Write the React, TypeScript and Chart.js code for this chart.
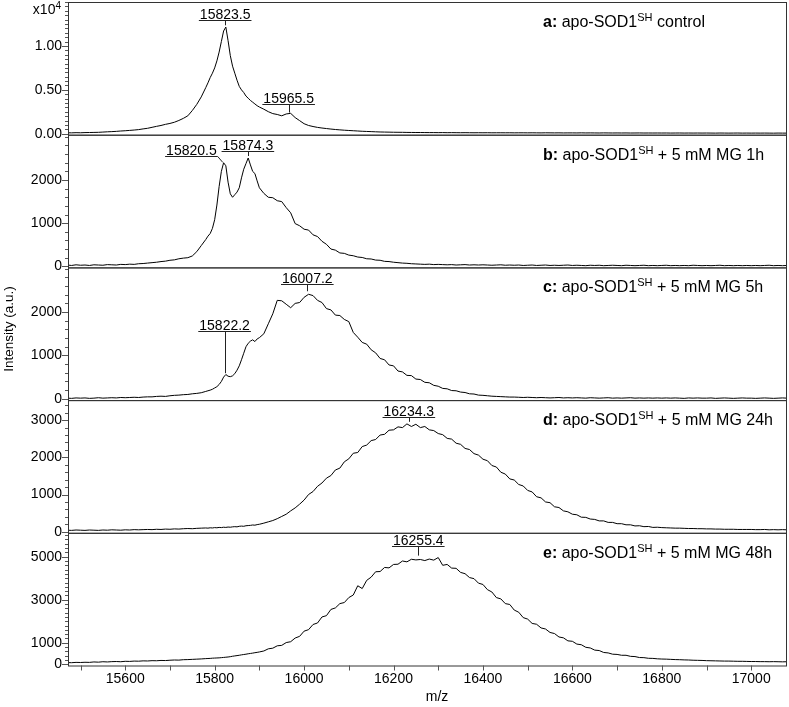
import React, { useEffect, useRef } from 'react';
import { Chart, registerables } from 'chart.js';

Chart.register(...registerables);

// m/z channels (shared by all five spectra)
const MZ = [
  15470, 15480, 15490,
  15500, 15510, 15520, 15530, 15540, 15550, 15560, 15570, 15580, 15590,
  15600, 15610, 15620, 15630, 15640, 15650, 15660, 15670, 15680, 15690,
  15700, 15710, 15720, 15730, 15740, 15750, 15760, 15770, 15780,
  15785, 15790, 15795, 15800, 15805, 15810, 15815, 15820, 15825, 15830, 15835, 15840,
  15845, 15850, 15855, 15860, 15865, 15870, 15875, 15880, 15885, 15890, 15895, 15900,
  15910, 15920, 15930, 15940, 15950, 15960, 15970, 15980, 15990,
  16000, 16010, 16020, 16030, 16040, 16050, 16060, 16070, 16080, 16090,
  16100, 16110, 16120, 16130, 16140, 16150, 16160, 16170, 16180, 16190,
  16200, 16210, 16220, 16230, 16240, 16250, 16260, 16270, 16280, 16290,
  16300, 16310, 16320, 16330, 16340, 16350, 16360, 16370, 16380, 16390,
  16400, 16410, 16420, 16430, 16440, 16450, 16460, 16470, 16480, 16490,
  16500, 16510, 16520, 16530, 16540, 16550, 16560, 16570, 16580, 16590,
  16600, 16610, 16620, 16630, 16640, 16650, 16660, 16670, 16680, 16690,
  16700, 16710, 16720, 16730, 16740, 16750, 16760, 16770, 16780, 16790,
  16800, 16810, 16820, 16830, 16840, 16850, 16860, 16870, 16880, 16890,
  16900, 16910, 16920, 16930, 16940, 16950, 16960, 16970, 16980, 16990,
  17000, 17010, 17020, 17030, 17040, 17050, 17060, 17070, 17080,
];

// a: apo-SOD1 control
const SERIES_A = [
  120, 110, 130,
  120, 140, 150, 160, 170, 200, 230, 250, 280, 320,
  350, 390, 430, 480, 560, 630, 740, 850, 950, 1080,
  1180, 1320, 1520, 1760, 2050, 2650, 3350, 4200, 5250,
  5800, 6400, 6900, 7500, 8300, 9300, 10500, 11700, 12150, 10600, 8900, 7700,
  6900, 6100, 5400, 5000, 4700, 4300, 4050, 3800, 3600, 3400, 3200, 3050,
  2800, 2520, 2300, 2200, 2050, 2260, 2330, 1850, 1500,
  1150, 950, 830, 730, 660, 600, 540, 490, 450, 410,
  380, 350, 320, 290, 270, 250, 230, 210, 200, 190,
  180, 175, 170, 160, 155, 150, 150, 145, 140, 140,
  135, 140, 130, 135, 130, 125, 130, 125, 120, 125,
  120, 125, 115, 120, 120, 115, 120, 110, 115, 115,
  110, 115, 110, 105, 115, 110, 105, 110, 100, 105,
  105, 100, 110, 100, 105, 100, 95, 105, 100, 95,
  100, 95, 100, 90, 95, 100, 90, 95, 90, 95,
  90, 95, 85, 90, 95, 85, 90, 85, 90, 85,
  90, 85, 80, 90, 85, 80, 85, 90, 80, 85,
  80, 85, 80, 85, 80, 75, 85, 80, 80,
];

// b: + 5 mM MG 1h
const SERIES_B = [
  30, 20, 35,
  25, 30, 20, 35, 30, 25, 40, 35, 30, 45,
  40, 50, 45, 60, 65, 75, 85, 95, 110, 120,
  140, 150, 175, 190, 200, 240, 340, 480, 620,
  700, 760, 880, 1080, 1420, 1850, 2200, 2400, 2330, 1950, 1680, 1600,
  1660, 1720, 1820, 2050, 2250, 2380, 2510, 2350, 2200, 2150, 1980, 1820,
  1690, 1600, 1590, 1520, 1500, 1360, 1240, 990, 940,
  860, 840, 730, 690, 580, 510, 400, 375, 310, 300,
  260, 245, 215, 205, 175, 170, 145, 140, 115, 110,
  95, 85, 75, 70, 60, 55, 50, 45, 50, 40,
  45, 40, 35, 40, 30, 35, 40, 30, 35, 30,
  35, 30, 25, 30, 35, 25, 30, 25, 30, 20,
  25, 30, 20, 25, 30, 20, 25, 20, 25, 30,
  20, 25, 20, 15, 25, 20, 25, 15, 20, 25,
  20, 15, 25, 20, 15, 20, 25, 15, 20, 15,
  20, 25, 15, 20, 15, 20, 15, 25, 20, 15,
  20, 15, 20, 25, 15, 20, 15, 20, 15, 20,
  15, 20, 15, 20, 25, 15, 20, 15, 20,
];

// c: + 5 mM MG 5h
const SERIES_C = [
  15, 10, 20,
  15, 20, 10, 15, 25, 15, 20, 25, 20, 30,
  25, 30, 35, 30, 40, 45, 45, 55, 60, 55,
  70, 80, 85, 95, 100, 115, 125, 140, 170,
  185, 200, 220, 250, 280, 330, 400, 500, 560, 520, 510, 530,
  580, 660, 760, 900, 1050, 1200, 1280, 1330, 1360, 1320, 1380, 1410,
  1500, 1730, 1960, 2270, 2260, 2180, 2100, 2200, 2220,
  2340, 2410, 2380, 2270, 2220, 2080, 2050, 1930, 1920, 1830,
  1780, 1530, 1420, 1300, 1260, 1130, 1060, 930, 900, 780,
  760, 640, 620, 540, 535, 455, 445, 380, 370, 310,
  290, 240, 230, 190, 185, 155, 145, 115, 110, 85,
  80, 70, 60, 55, 50, 45, 40, 40, 35, 30,
  35, 30, 25, 30, 25, 20, 25, 30, 20, 25,
  20, 25, 20, 15, 25, 20, 15, 20, 25, 15,
  20, 15, 20, 25, 15, 20, 15, 20, 15, 20,
  15, 20, 15, 20, 15, 10, 20, 15, 20, 15,
  15, 20, 10, 15, 20, 15, 10, 15, 20, 15,
  15, 10, 15, 20, 15, 10, 15, 20, 15,
];

// d: + 5 mM MG 24h
const SERIES_D = [
  40, 35, 45,
  40, 35, 45, 40, 35, 45, 40, 50, 45, 40,
  50, 45, 55, 50, 55, 60, 55, 65, 60, 70,
  65, 75, 70, 80, 85, 80, 90, 95, 100,
  95, 105, 100, 110, 105, 115, 110, 120, 115, 125, 120, 130,
  135, 130, 145, 150, 145, 160, 165, 170, 180, 175, 190, 200,
  230, 265, 300, 350, 410, 470, 560, 640, 740,
  850, 1000, 1080, 1220, 1310, 1440, 1510, 1660, 1710, 1880,
  1960, 2110, 2130, 2290, 2330, 2450, 2480, 2600, 2620, 2730,
  2740, 2820, 2800, 2900, 2830, 2890, 2800, 2830, 2740, 2720,
  2640, 2610, 2510, 2490, 2380, 2350, 2240, 2210, 2100, 2060,
  1950, 1910, 1780, 1740, 1600, 1550, 1420, 1390, 1270, 1230,
  1110, 1070, 940, 910, 800, 780, 670, 650, 560, 535,
  470, 455, 390, 385, 340, 330, 290, 290, 250, 250,
  215, 215, 185, 185, 155, 160, 135, 140, 115, 120,
  110, 105, 100, 95, 95, 90, 85, 85, 80, 80,
  75, 75, 70, 70, 65, 65, 65, 60, 60, 60,
  60, 55, 55, 60, 50, 55, 50, 55, 50,
];

// e: + 5 mM MG 48h
const SERIES_E = [
  80, 75, 90,
  85, 95, 90, 110, 100, 120, 110, 125, 130, 120,
  140, 135, 150, 145, 160, 155, 170, 165, 180, 175,
  190, 200, 195, 215, 220, 230, 240, 250, 265,
  270, 275, 285, 290, 295, 300, 310, 320, 330, 340, 355, 375,
  390, 405, 420, 440, 455, 470, 490, 505, 520, 540, 555, 575,
  620, 720, 750, 860, 880, 1010, 1050, 1220, 1300,
  1540, 1610, 1850, 1920, 2200, 2260, 2550, 2620, 2820, 2870,
  3100, 3220, 3650, 3520, 3900, 4050, 4300, 4310, 4500, 4480,
  4640, 4650, 4800, 4760, 4880, 4850, 4870, 4820, 4890, 4840,
  4960, 4600, 4640, 4470, 4460, 4270, 4210, 4030, 3980, 3770,
  3710, 3470, 3360, 3100, 3040, 2820, 2780, 2520, 2420, 2170,
  2100, 1900, 1860, 1690, 1640, 1480, 1430, 1270, 1230, 1090,
  1070, 940, 910, 790, 760, 660, 640, 550, 530, 470,
  460, 420, 420, 370, 360, 315, 310, 280, 275, 255,
  245, 240, 230, 220, 215, 205, 200, 190, 185, 180,
  170, 165, 160, 155, 150, 150, 145, 140, 140, 135,
  130, 130, 125, 125, 120, 125, 120, 115, 120,
];

const X_TICKS = [15600, 15800, 16000, 16200, 16400, 16600, 16800, 17000];
const X_MINOR_TICKS = [15500, 15700, 15900, 16100, 16300, 16500, 16700, 16900];
const Y_TICKS_A = [0, 5000, 10000];
const Y_TICKS_B = [0, 1000, 2000];
const Y_TICKS_C = [0, 1000, 2000];
const Y_TICKS_D = [0, 1000, 2000, 3000];
const Y_TICKS_E = [0, 1000, 3000, 5000];

const PANEL_LETTERS = ['a:', 'b:', 'c:', 'd:', 'e:'];
const PANEL_TEXTS = [' control', ' + 5 mM MG 1h', ' + 5 mM MG 5h', ' + 5 mM MG 24h', ' + 5 mM MG 48h'];

// peak annotations: label, label centre m/z, underline level, tip m/z, tip level
const PEAKS_A = [
  { label: '15823.5', textMz: 15823.5, line: 12960, tipMz: 15823.5, tip: 12350 },
  { label: '15965.5', textMz: 15965.5, line: 3450, tipMz: 15965.5, tip: 2420 },
];
const PEAKS_B = [
  { label: '15820.5', textMz: 15748, line: 2563, tipMz: 15818, tip: 2410 },
  { label: '15874.3', textMz: 15874.3, line: 2680, tipMz: 15874.3, tip: 2556 },
];
const PEAKS_C = [
  { label: '16007.2', textMz: 16007.2, line: 2647, tipMz: 16007.2, tip: 2480 },
  { label: '15822.2', textMz: 15822.2, line: 1571, tipMz: 15822.2, tip: 591 },
];
const PEAKS_D = [
  { label: '16234.3', textMz: 16234.3, line: 3090, tipMz: 16234.3, tip: 2956 },
];
const PEAKS_E = [
  { label: '16255.4', textMz: 16255.4, line: 5479, tipMz: 16255.4, tip: 5050 },
];

const FONT = '"Liberation Sans", Arial, Helvetica, sans-serif';

const PANELS = [
  { id: 'ya', data: SERIES_A, min: -100, max: 15000, ticks: Y_TICKS_A, minor: 500, sci: true, peaks: PEAKS_A },
  { id: 'yb', data: SERIES_B, min: -25, max: 3050, ticks: Y_TICKS_B, minor: 200, sci: false, peaks: PEAKS_B },
  { id: 'yc', data: SERIES_C, min: -30, max: 3030, ticks: Y_TICKS_C, minor: 200, sci: false, peaks: PEAKS_C },
  { id: 'yd', data: SERIES_D, min: -30, max: 3540, ticks: Y_TICKS_D, minor: 200, sci: false, peaks: PEAKS_D },
  { id: 'ye', data: SERIES_E, min: -55, max: 6110, ticks: Y_TICKS_E, minor: 200, sci: false, peaks: PEAKS_E },
];

const decorPlugin = {
  id: 'decor',
  afterDraw(chart: any) {
    const ctx = chart.ctx;
    const area = chart.chartArea;
    const xs = chart.scales.x;
    ctx.save();
    PANELS.forEach((p, i) => {
      const s = chart.scales[p.id];
      ctx.strokeStyle = '#333';
      ctx.lineWidth = 1;
      ctx.strokeRect(area.left + 0.5, s.top + 0.5, area.right - area.left - 1, s.bottom - s.top);
      ctx.strokeStyle = '#555';
      ctx.beginPath();
      const start = Math.ceil(p.min / p.minor) * p.minor;
      for (let v = start; v <= p.max; v += p.minor) {
        const y = Math.round(s.getPixelForValue(v)) + 0.5;
        const len = p.ticks.includes(v) ? 6 : 3;
        ctx.moveTo(area.left - len, y);
        ctx.lineTo(area.left, y);
      }
      ctx.stroke();

      // panel label
      ctx.fillStyle = '#000';
      ctx.textBaseline = 'alphabetic';
      ctx.textAlign = 'left';
      let x = 543;
      const y = s.top + 25;
      ctx.font = 'bold 16px ' + FONT;
      ctx.fillText(PANEL_LETTERS[i], x, y);
      x += ctx.measureText(PANEL_LETTERS[i]).width;
      ctx.font = '16px ' + FONT;
      ctx.fillText(' apo-SOD1', x, y);
      x += ctx.measureText(' apo-SOD1').width;
      ctx.font = '11px ' + FONT;
      ctx.fillText('SH', x, y - 6);
      x += ctx.measureText('SH').width;
      ctx.font = '16px ' + FONT;
      ctx.fillText(PANEL_TEXTS[i], x, y);

      // peak annotations
      ctx.font = '14px ' + FONT;
      ctx.textAlign = 'center';
      ctx.strokeStyle = '#222';
      p.peaks.forEach((pk) => {
        const xt = xs.getPixelForValue(pk.textMz);
        const yl = Math.round(s.getPixelForValue(pk.line)) + 0.5;
        const w = ctx.measureText(pk.label).width + 2;
        ctx.fillText(pk.label, xt, yl - 2);
        ctx.beginPath();
        ctx.moveTo(xt - w / 2, yl);
        ctx.lineTo(xt + w / 2, yl);
        const tx = xs.getPixelForValue(pk.tipMz);
        const ty = s.getPixelForValue(pk.tip);
        const sx = tx > xt + w / 2 ? xt + w / 2 : Math.round(tx) + 0.5;
        ctx.moveTo(sx, yl);
        ctx.lineTo(tx > xt + w / 2 ? tx : sx, ty);
        ctx.stroke();
      });
    });

    // x ticks
    ctx.strokeStyle = '#555';
    ctx.beginPath();
    [...X_TICKS, ...X_MINOR_TICKS].forEach((v) => {
      const x = Math.round(xs.getPixelForValue(v)) + 0.5;
      ctx.moveTo(x, area.bottom);
      ctx.lineTo(x, area.bottom + 5);
    });
    ctx.stroke();

    // x10^4
    ctx.fillStyle = '#000';
    ctx.textAlign = 'right';
    ctx.font = '10px ' + FONT;
    ctx.fillText('4', 61, 9);
    const w4 = ctx.measureText('4').width;
    ctx.font = '14px ' + FONT;
    ctx.fillText('x10', 61 - w4, 14);

    // axis titles
    ctx.textAlign = 'center';
    ctx.textBaseline = 'middle';
    ctx.font = '14px ' + FONT;
    ctx.fillText('m/z', 437, 697);
    ctx.save();
    ctx.translate(9, 329);
    ctx.rotate(-Math.PI / 2);
    ctx.font = '13.5px ' + FONT;
    ctx.fillText('Intensity (a.u.)', 0, 0);
    ctx.restore();
    ctx.restore();
  },
};

export default function App() {
  const ref = useRef<HTMLCanvasElement | null>(null);
  useEffect(() => {
    if (!ref.current) return;
    const scales: any = {
      x: {
        type: 'linear',
        position: 'bottom',
        min: 15472,
        max: 17080,
        grid: { display: false, drawTicks: false },
        border: { display: false },
        ticks: {
          padding: 5,
          color: '#000',
          font: { family: FONT, size: 14 },
          maxRotation: 0,
          autoSkip: false,
          callback: (v: number) => String(v),
        },
        afterBuildTicks: (s: any) => { s.ticks = X_TICKS.map((v) => ({ value: v })); },
        afterFit: (s: any) => { s.height = 41.5; s.paddingLeft = 0; s.paddingRight = 0; },
      },
    };
    // bottom-to-top definition order => last one is placed at the top of the stack
    [...PANELS].reverse().forEach((p) => {
      scales[p.id] = {
        type: 'linear',
        position: 'left',
        stack: 'spectra',
        stackWeight: 1,
        min: p.min,
        max: p.max,
        grid: { display: false, drawTicks: false },
        border: { display: false },
        ticks: {
          padding: 6,
          color: '#000',
          autoSkip: false,
          font: { family: FONT, size: 14 },
          callback: (v: number) => (p.sci ? (v / 10000).toFixed(2) : String(v)),
        },
        afterBuildTicks: (s: any) => { s.ticks = p.ticks.map((v) => ({ value: v })); },
        afterFit: (s: any) => { s.width = 68; s.paddingTop = 0; s.paddingBottom = 0; },
      };
    });
    const chart = new Chart(ref.current, {
      type: 'line',
      data: {
        datasets: PANELS.map((p) => ({
          label: p.id,
          data: MZ.map((m, i) => ({ x: m, y: p.data[i] })),
          xAxisID: 'x',
          yAxisID: p.id,
          borderColor: '#000',
          borderWidth: 1,
          pointRadius: 0,
          fill: false,
          tension: 0,
        })),
      },
      options: {
        responsive: false,
        animation: false,
        devicePixelRatio: 1,
        events: [],
        layout: { padding: { left: 0, right: 2, top: 2, bottom: 0 } },
        plugins: { legend: { display: false }, tooltip: { enabled: false }, title: { display: false } },
        scales,
      },
      plugins: [decorPlugin],
    });
    return () => chart.destroy();
  }, []);
  return (
    <div style={{ position: 'absolute', left: 0, top: 0, width: 789, height: 707, background: '#fff' }}>
      <canvas ref={ref} width={789} height={707} style={{ display: 'block' }} />
    </div>
  );
}
